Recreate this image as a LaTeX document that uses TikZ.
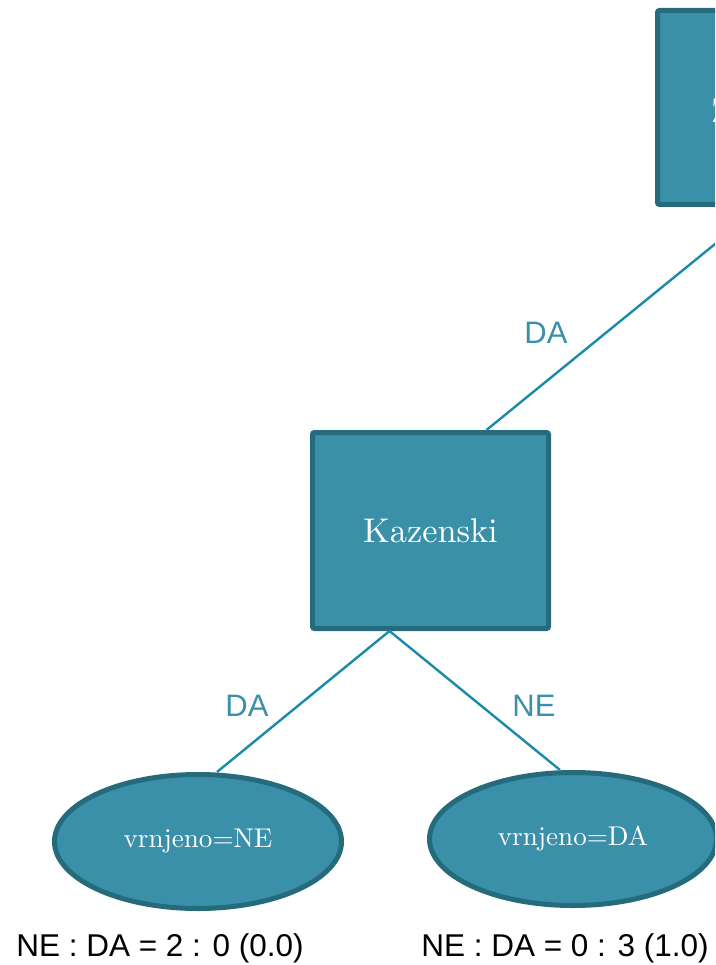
\documentclass[tikz,border=0pt]{standalone}
\usepackage{fontspec}
\usepackage{graphicx}
\newfontfamily\arial{Liberation Sans}
\usetikzlibrary{shapes.geometric,calc}
\definecolor{nodefill}{HTML}{3A90A8}
\definecolor{nodeborder}{HTML}{266B7C}
\definecolor{edgecol}{HTML}{1A8BA8}
\definecolor{labelcol}{HTML}{3A90A8}
\newcommand{\boxtext}[1]{\scalebox{3.43}{\fontsize{10}{12}\selectfont #1}}
\newcommand{\leaftext}[1]{\scalebox{2.71}{\fontsize{10}{12}\selectfont #1}}
\tikzset{
  testbox/.style={rectangle, rounded corners=2pt, draw=nodeborder, line width=5pt,
    fill=nodefill, text=white, minimum width=236pt, minimum height=196pt,
    inner sep=0pt},
  leaf/.style={ellipse, draw=nodeborder, line width=5pt, fill=nodefill, text=white,
    minimum width=287pt, minimum height=134pt, inner sep=0pt},
  branch/.style={draw=edgecol, line width=2.4pt},
  branchlabel/.style={text=labelcol, font=\arial\fontsize{31}{36}\selectfont, inner sep=0pt},
  counts/.style={text=black, font=\arial\fontsize{31.5}{36}\selectfont, inner sep=0pt}
}
\begin{document}
\begin{tikzpicture}[x=1pt,y=-1pt]
\useasboundingbox (0,0) rectangle (715,965);
\clip (0,0) rectangle (715,965);
\fill[white] (0,0) rectangle (715,965);

% root test, partly outside the page
\node[testbox, minimum height=194pt] (root) at (775.5,107.5) {};
\node[anchor=west, text=white, inner sep=0pt] (rootlabel) at (711,111) {\boxtext{Z}};

% inner test
\node[testbox] (kaz) at (430.5,530.5) {\boxtext{Kazenski}};

% leaves
\node[leaf] (leafne) at (198,841.5) {\leaftext{vrnjeno=NE}};
\node[leaf, minimum height=133pt] (leafda) at (573,839) {\leaftext{vrnjeno=DA}};

% branches
\draw[branch] ([xshift=-15pt]root.south) -- ([xshift=56pt]kaz.north);
\draw[branch] ([xshift=-41pt]kaz.south) -- ([xshift=19pt]leafne.north);
\draw[branch] ([xshift=-41pt]kaz.south) -- ([xshift=-13pt]leafda.north);

% branch labels
\node[branchlabel] (lroot) at (546,333) {DA};
\node[branchlabel] (lda) at (247,706) {DA};
\node[branchlabel] (lne) at (534,706) {NE};

% class counts under the leaves
\node[counts] (cne) at (160,948) {NE : DA = 2 : 0 (0.0)};
\node[counts] (cda) at (565,948) {NE : DA = 0 : 3 (1.0)};
\end{tikzpicture}
\end{document}
